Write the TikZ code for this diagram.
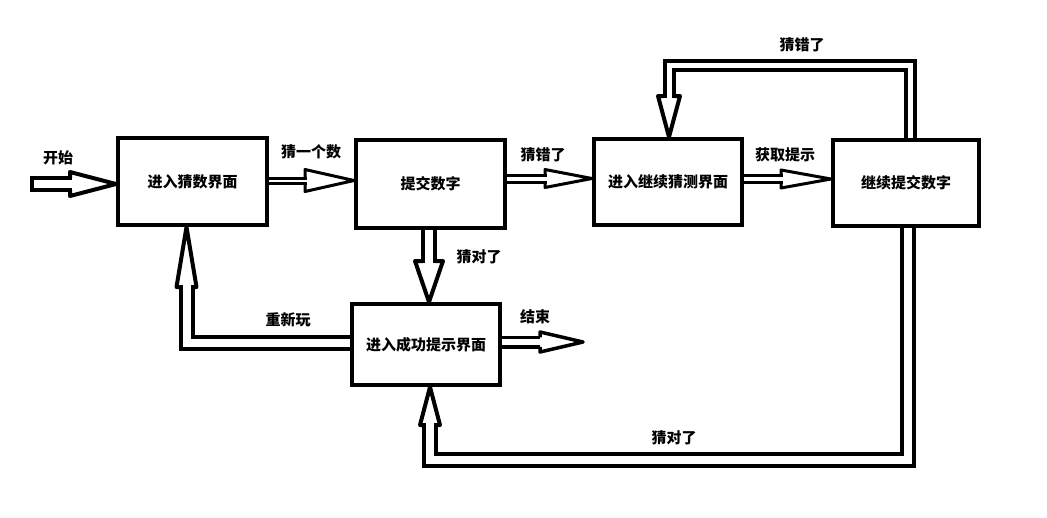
\documentclass[tikz,border=0pt]{standalone}
\usepackage{fontspec}
\newfontfamily\cjk{Noto Sans CJK SC}
\usetikzlibrary{backgrounds}
\tikzset{
  box/.style={draw, line width=4pt, inner sep=0pt, font=\cjk\bfseries\fontsize{15}{15}\selectfont},
  lbl/.style={inner sep=0pt, font=\cjk\bfseries\fontsize{15}{15}\selectfont},
  shaft/.style 2 args={draw=black, line width=#1, double=white, double distance=#2, line cap=butt, line join=miter},
  headline/.style={draw=black, line join=round, line cap=butt},
}
% tip, angle, length, half width, half shaft, line width
\newcommand{\hhead}[6]{\begin{scope}[shift={(#1)},rotate=#2]\draw[headline,line width=#6] (-#3,#5) -- (-#3,#4) -- (0,0) -- (-#3,-#4) -- (-#3,-#5);\end{scope}}
\begin{document}
\begin{tikzpicture}[x=1pt,y=-1pt]
\useasboundingbox (0,0) rectangle (1047,517);
% boxes
\node[box, minimum width=149pt, minimum height=87pt] (A) at (192.5,181.5) {进入猜数界面};
\node[box, minimum width=149pt, minimum height=88pt] (B) at (430.5,184) {提交数字};
\node[box, minimum width=148pt, minimum height=86pt] (C) at (668,182) {进入继续猜测界面};
\node[box, minimum width=146pt, minimum height=86pt] (D) at (906,183) {继续提交数字};
\node[box, minimum width=148pt, minimum height=81pt] (E) at (426,344.5) {进入成功提示界面};
% helper coordinates
\coordinate (s) at (30,184);
\coordinate (h1) at (72,184);
\coordinate (y2) at (0,180.5);
\coordinate (h2) at (307,180.5);
\coordinate (y3) at (0,178.5);
\coordinate (h3) at (547,178.5);
\coordinate (y4) at (0,179);
\coordinate (h4) at (783,179);
\coordinate (x5) at (429,0);
\coordinate (h5) at (429,263);
\coordinate (y6) at (0,342);
\coordinate (h6) at (540,342);
\coordinate (t6) at (583,342);
\coordinate (y7) at (0,343);
\coordinate (b7) at (186.5,343);
\coordinate (h7) at (186.5,285);
\coordinate (x8) at (910,0);
\coordinate (b8a) at (910,65.5);
\coordinate (b8b) at (669,65.5);
\coordinate (h8) at (669,98);
\coordinate (x9) at (908,0);
\coordinate (b9a) at (908,460);
\coordinate (b9b) at (430,460);
\coordinate (h9) at (430,423);
\begin{scope}[on background layer]
  \fill[white] (0,0) rectangle (1047,517);
  % start
  \draw[shaft={4pt}{8pt}] (s) -- (h1);
  \draw[line width=4pt] (s) ++(2,-8) -- ++(0,16);
  \hhead{A.west |- s}{0}{46}{12}{6}{4pt}
  % A -> B
  \draw[shaft={3pt}{2pt}] (A.east |- y2) -- (h2);
  \hhead{B.west |- y2}{0}{49}{11}{2.5}{3pt}
  % B -> C
  \draw[shaft={3pt}{4pt}] (B.east |- y3) -- (h3);
  \hhead{C.west |- y3}{0}{47}{9}{3.5}{3pt}
  % C -> D
  \draw[shaft={3pt}{4pt}] (C.east |- y4) -- (h4);
  \hhead{D.west |- y4}{0}{50}{9}{3.5}{3pt}
  % B -> E
  \draw[shaft={4pt}{8pt}] (B.south -| x5) -- (h5);
  \hhead{E.north -| x5}{-90}{41}{14}{6}{4pt}
  % E -> end
  \draw[shaft={3.5pt}{6pt}] (E.east |- y6) -- (h6);
  \hhead{t6}{0}{43}{10}{4.75}{3.5pt}
  % E -> A
  \draw[shaft={4pt}{8pt}] (E.west |- y7) -- (b7) -- (h7);
  \hhead{A.south -| b7}{90}{60}{10}{6}{4pt}
  % D -> C (top loop)
  \draw[shaft={4pt}{5pt}] (D.north -| x8) -- (b8a) -- (b8b) -- (h8);
  \hhead{C.north -| h8}{-90}{41}{11}{4.5}{4pt}
  % D -> E (bottom loop)
  \draw[shaft={4pt}{8pt}] (D.south -| x9) -- (b9a) -- (b9b) -- (h9);
  \hhead{E.south -| h9}{90}{38}{10}{6}{4pt}
\end{scope}
% labels
\node[lbl] (l1) at (58,158) {开始};
\node[lbl] (l2) at (311,152) {猜一个数};
\node[lbl] (l3) at (543,155) {猜错了};
\node[lbl] (l4) at (785,155) {获取提示};
\node[lbl] (l5) at (479,257) {猜对了};
\node[lbl] (l6) at (288,320) {重新玩};
\node[lbl] (l7) at (535,317) {结束};
\node[lbl] (l8) at (802,45) {猜错了};
\node[lbl] (l9) at (674,438) {猜对了};
\end{tikzpicture}
\end{document}
